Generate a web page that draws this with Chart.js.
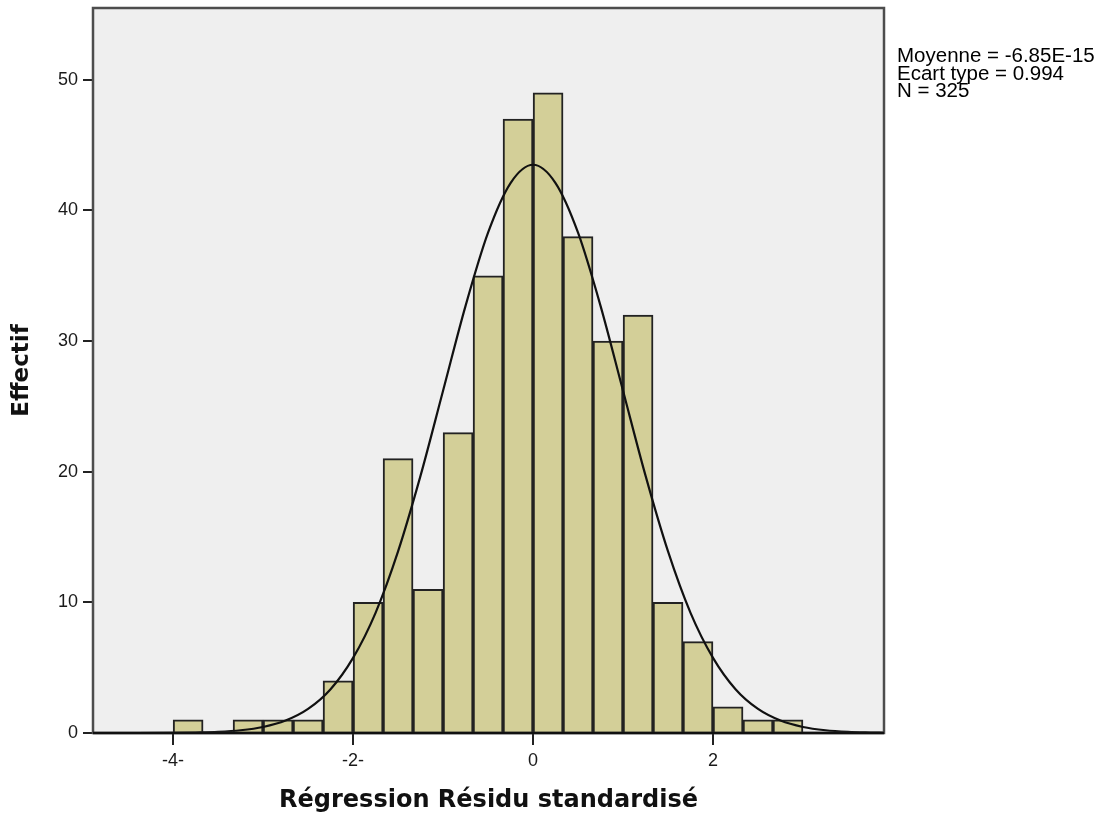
<!DOCTYPE html>
<html>
<head>
<meta charset="utf-8">
<script src="https://cdn.jsdelivr.net/npm/chart.js@4/dist/chart.umd.min.js"></script>
<style>
  html, body { margin: 0; padding: 0; background: #ffffff; }
  canvas { display: block; }
</style>
</head>
<body>
<canvas id="hist" width="1101" height="823"></canvas>
<script>
// Histogram of standardized residuals (bin width 1/3)
const binCenters = [-3.833, -3.167, -2.833, -2.5, -2.167, -1.833, -1.5, -1.167, -0.833, -0.5,
                    -0.167, 0.167, 0.5, 0.833, 1.167, 1.5, 1.833, 2.167, 2.5, 2.833];
const binCounts  = [1, 1, 1, 1, 4, 10, 21, 11, 23, 35,
                    47, 49, 38, 30, 32, 10, 7, 2, 1, 1];

// Normal curve
const curveX = [-4.8, -4.5, -4, -3.75, -3.5, -3.25, -3, -2.75, -2.5, -2.25, -2, -1.75, -1.5, -1.25, -1,
                -0.75, -0.5, -0.25, 0, 0.25, 0.5, 0.75, 1, 1.25, 1.5, 1.75, 2, 2.25, 2.5, 2.75,
                3, 3.25, 3.5, 3.75, 3.9];
const curveY = [0, 0, 0.01, 0.04, 0.09, 0.21, 0.46, 0.95, 1.84, 3.35, 5.75, 9.2, 13.9, 19.7, 26.2,
                32.7, 38.3, 42.1, 43.5, 42.1, 38.3, 32.7, 26.2, 19.7, 13.9, 9.2, 5.75, 3.35, 1.84, 0.95,
                0.46, 0.21, 0.09, 0.04, 0.02];

const xTicks = [-4, -2, 0, 2];
const yTicks = [0, 10, 20, 30, 40, 50];
const statsLines = ['Moyenne = -6.85E-15', 'Ecart type = 0.994', 'N = 325'];

const plotDeco = {
    id: 'plotDeco',
    beforeDraw(chart) {
        const a = chart.chartArea, ctx = chart.ctx;
        ctx.save();
        ctx.fillStyle = '#efefef';
        ctx.fillRect(a.left, a.top, a.right - a.left, a.bottom - a.top);
        ctx.restore();
    },
    afterDraw(chart) {
        const a = chart.chartArea, ctx = chart.ctx;
        ctx.save();
        ctx.strokeStyle = '#4d4d4d';
        ctx.lineWidth = 2.5;
        ctx.strokeRect(a.left, a.top, a.right - a.left, a.bottom - a.top);
        // baseline
        ctx.strokeStyle = '#111111';
        ctx.lineWidth = 2.5;
        ctx.beginPath();
        ctx.moveTo(a.left, a.bottom);
        ctx.lineTo(a.right, a.bottom);
        ctx.stroke();
        // stats text
        ctx.fillStyle = '#000000';
        ctx.font = '20.5px "Liberation Sans", Arial, sans-serif';
        ctx.textBaseline = 'alphabetic';
        statsLines.forEach((t, i) => ctx.fillText(t, 897, 62 + i * 17.5));
        ctx.restore();
    }
};

new Chart(document.getElementById('hist'), {
    type: 'bar',
    data: {
        datasets: [{
            type: 'line',
            data: curveX.map((x, i) => ({ x: x, y: curveY[i] })),
            borderColor: '#111111',
            borderWidth: 2.2,
            pointRadius: 0,
            fill: false,
            cubicInterpolationMode: 'monotone',
            order: 1
        }, {
            type: 'bar',
            data: binCenters.map((x, i) => ({ x: x, y: binCounts[i] })),
            backgroundColor: '#d3cf98',
            borderColor: '#222222',
            borderWidth: 2,
            borderSkipped: 'start',
            barPercentage: 1,
            categoryPercentage: 1,
            order: 2
        }]
    },
    options: {
        responsive: false,
        animation: false,
        devicePixelRatio: 1,
        layout: { padding: { top: 8, right: 217, left: 0, bottom: 0 } },
        plugins: {
            legend: { display: false },
            tooltip: { enabled: false }
        },
        scales: {
            x: {
                type: 'linear',
                min: -4.89,
                max: 3.9,
                offset: false,
                afterFit: s => { s.height = 90; s.paddingLeft = 0; s.paddingRight = 0; },
                afterBuildTicks: s => { s.ticks = xTicks.map(v => ({ value: v })); },
                grid: { display: true, drawOnChartArea: false, offset: false, tickLength: 12, color: '#222222', lineWidth: 2 },
                border: { display: false },
                ticks: {
                    padding: 5,
                    color: '#1a1a1a',
                    font: { family: '"Liberation Sans", Arial', size: 18 },
                    maxRotation: 0,
                    callback: v => v < 0 ? '-' + Math.abs(v) + '-' : String(v)
                },
                title: {
                    display: true,
                    text: 'Régression Résidu standardisé',
                    color: '#111111',
                    font: { family: '"DejaVu Sans"', size: 24, weight: 'bold' },
                    padding: { top: 0, bottom: 8 }
                }
            },
            y: {
                min: 0,
                max: 55.5,
                afterFit: s => { s.width = 93; s.paddingTop = 0; s.paddingBottom = 0; },
                afterBuildTicks: s => { s.ticks = yTicks.map(v => ({ value: v })); },
                grid: { display: true, drawOnChartArea: false, tickLength: 10, color: '#222222', lineWidth: 2 },
                border: { display: false },
                ticks: {
                    padding: 5,
                    color: '#1a1a1a',
                    font: { family: '"Liberation Sans", Arial', size: 18 }
                },
                title: {
                    display: true,
                    text: 'Effectif',
                    color: '#111111',
                    font: { family: '"DejaVu Sans"', size: 23, weight: 'bold' },
                    padding: { top: 8, bottom: 0 }
                }
            }
        }
    },
    plugins: [plotDeco]
});
</script>
</body>
</html>
